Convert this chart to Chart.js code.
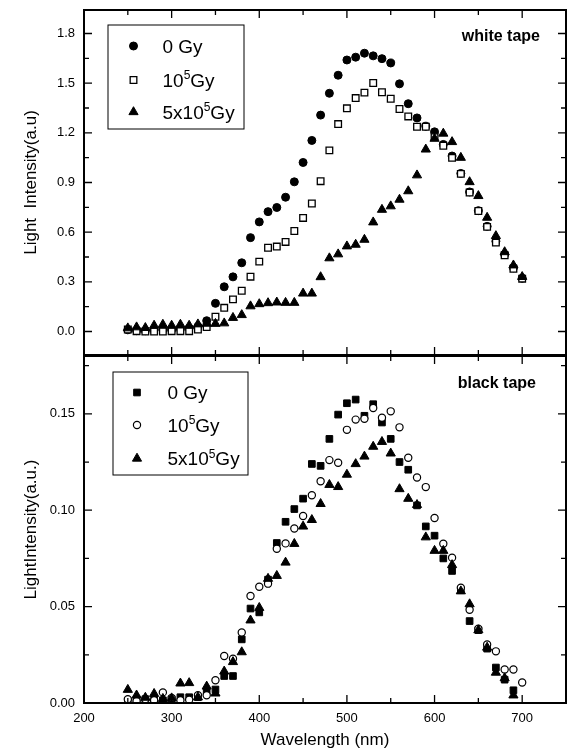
<!DOCTYPE html>
<html>
<head>
<meta charset="utf-8">
<script src="https://cdn.jsdelivr.net/npm/chart.js@4.4.1/dist/chart.umd.min.js"></script>
<style>
  html, body { margin: 0; padding: 0; background: #fff; }
  #wrap { position: relative; width: 569px; height: 751px; }
  #wrap canvas { position: absolute; left: 0; top: 0; }
</style>
</head>
<body>
<div id="wrap">
  <canvas id="topChart" width="569" height="751"></canvas>
  <canvas id="bottomChart" width="569" height="751"></canvas>
</div>
<script>
// wavelengths (nm)
const wavelengths = [250, 260, 270, 280, 290, 300, 310, 320, 330, 340, 350, 360, 370, 380, 390, 400,
    410, 420, 430, 440, 450, 460, 470, 480, 490, 500, 510, 520, 530, 540, 550, 560, 570, 580, 590, 600,
    610, 620, 630, 640, 650, 660, 670, 680, 690, 700];

// white tape panel
const whiteLabels = ["0 Gy", "10^5Gy", "5x10^5Gy"];
const white0 = [0.01, 0.005, 0.005, 0.01, 0.01, 0.01, 0.015, 0.02, 0.03, 0.065, 0.17, 0.27, 0.33, 0.415,
    0.567, 0.662, 0.724, 0.749, 0.811, 0.904, 1.021, 1.154, 1.307, 1.439, 1.548, 1.64, 1.657, 1.681, 1.665,
    1.648, 1.622, 1.496, 1.376, 1.29, 1.24, 1.206, 1.13, 1.06, 0.955, 0.843, 0.73, 0.635, 0.545, 0.465,
    0.385, 0.322];
const white1e5 = [0.012, 0.002, 0, 0, 0, 0.002, 0.002, 0.002, 0.012, 0.027, 0.089, 0.143, 0.194, 0.246,
    0.331, 0.422, 0.506, 0.513, 0.541, 0.607, 0.686, 0.773, 0.908, 1.094, 1.253, 1.348, 1.41, 1.443, 1.501,
    1.445, 1.406, 1.344, 1.299, 1.237, 1.237, 1.174, 1.122, 1.049, 0.952, 0.839, 0.728, 0.632, 0.537, 0.46,
    0.379, 0.319];
const white5e5 = [0.02, 0.026, 0.022, 0.036, 0.042, 0.036, 0.042, 0.036, 0.044, 0.048, 0.047, 0.05, 0.083,
    0.1, 0.153, 0.166, 0.172, 0.176, 0.174, 0.174, 0.23, 0.23, 0.329, 0.443, 0.467, 0.515, 0.525, 0.555, 0.66,
    0.736, 0.757, 0.797, 0.848, 0.944, 1.1, 1.165, 1.196, 1.145, 1.05, 0.903, 0.819, 0.688, 0.577, 0.48, 0.4,
    0.33];

// black tape panel (filled squares and triangles stop at 690 nm)
const blackLabels = ["0 Gy", "10^5Gy", "5x10^5Gy"];
const black0 = [0.001, 0.002, 0.002, 0.002, 0.0014, 0.002, 0.003, 0.003, 0.003, 0.006, 0.007, 0.014, 0.014,
    0.033, 0.049, 0.047, 0.064, 0.083, 0.094, 0.1006, 0.106, 0.124, 0.123, 0.137, 0.1496, 0.1555, 0.1574,
    0.149, 0.155, 0.1455, 0.137, 0.125, 0.121, 0.1025, 0.0916, 0.0868, 0.075, 0.0685, 0.0585, 0.0425, 0.0378,
    0.0282, 0.0184, 0.0121, 0.0066];
const black1e5 = [0.002, 0.001, 0.002, 0.0014, 0.0055, 0.0026, 0.0014, 0.0017, 0.004, 0.004, 0.0118, 0.0244,
    0.023, 0.0366, 0.0555, 0.0603, 0.0619, 0.08, 0.0828, 0.0905, 0.097, 0.1078, 0.115, 0.126, 0.1246, 0.1417,
    0.147, 0.1474, 0.153, 0.148, 0.1513, 0.143, 0.1272, 0.117, 0.112, 0.096, 0.0826, 0.0754, 0.0598, 0.0484,
    0.0385, 0.0304, 0.0268, 0.0174, 0.0174, 0.0106];
const black5e5 = [0.0069, 0.004, 0.0028, 0.0048, 0.0022, 0.0025, 0.0102, 0.0104, 0.003, 0.0086, 0.005, 0.0164,
    0.0213, 0.0264, 0.0429, 0.0494, 0.0645, 0.066, 0.0729, 0.0826, 0.0916, 0.095, 0.1033, 0.1132, 0.1121,
    0.1185, 0.124, 0.1279, 0.133, 0.1355, 0.1295, 0.111, 0.106, 0.1028, 0.086, 0.079, 0.079, 0.0716, 0.058,
    0.0513, 0.0378, 0.0288, 0.0158, 0.0129, 0.004];

// tick labels
const xTicks = [200, 300, 400, 500, 600, 700];
const whiteYTicks = [0, 0.3, 0.6, 0.9, 1.2, 1.5, 1.8];
const blackYTicks = [0, 0.05, 0.10, 0.15];

const FONT = "'Liberation Sans', Arial, Helvetica, sans-serif";
Chart.defaults.font.family = FONT;
Chart.defaults.color = "#000";

function points(values) {
    return values.map((v, i) => ({ x: wavelengths[i], y: v }));
}

function minorTicks(major, min, max) {
    let step = major[1] - major[0];
    let list = [major[0] - step / 2];
    major.forEach(v => list.push(v + step / 2));
    return list.filter(v => v > min + 1e-9 && v < max - 1e-9);
}

// frame with inward ticks on all four sides
const framePlugin = {
    id: "frame",
    afterDraw(chart, args, opts) {
        const { ctx, chartArea: a, scales: { x, y } } = chart;
        ctx.save();
        ctx.strokeStyle = "#000";
        ctx.lineWidth = 1.3;
        ctx.beginPath();
        const xt = (list, len) => list.forEach(v => {
            let px = x.getPixelForValue(v);
            ctx.moveTo(px, a.bottom); ctx.lineTo(px, a.bottom - len);
            ctx.moveTo(px, a.top); ctx.lineTo(px, a.top + len);
        });
        const yt = (list, len) => list.forEach(v => {
            let py = y.getPixelForValue(v);
            ctx.moveTo(a.left, py); ctx.lineTo(a.left + len, py);
            ctx.moveTo(a.right, py); ctx.lineTo(a.right - len, py);
        });
        xt(xTicks, 8);
        xt(minorTicks(xTicks, x.min, x.max), 5);
        yt(opts.yTicks, 8);
        yt(minorTicks(opts.yTicks, y.min, y.max), 5);
        ctx.stroke();
        ctx.lineWidth = 2;
        ctx.strokeRect(a.left, a.top, a.right - a.left, a.bottom - a.top);
        ctx.restore();
    }
};

// text with "^" marking a one-character superscript
function drawRichText(ctx, text, x, y, size) {
    let i = 0;
    while (i < text.length) {
        if (text[i] === "^") {
            ctx.font = Math.round(size * 0.62) + "px " + FONT;
            ctx.fillText(text[i + 1], x, y - size * 0.4);
            x += ctx.measureText(text[i + 1]).width;
            i += 2;
        } else {
            let j = text.indexOf("^", i);
            if (j < 0) j = text.length;
            let part = text.slice(i, j);
            ctx.font = size + "px " + FONT;
            ctx.fillText(part, x, y);
            x += ctx.measureText(part).width;
            i = j;
        }
    }
}

// boxed legend and panel name inside the plot
const legendPlugin = {
    id: "boxLegend",
    afterDraw(chart, args, opts) {
        const ctx = chart.ctx;
        const b = opts.box;
        ctx.save();
        ctx.strokeStyle = "#000";
        ctx.lineWidth = 1;
        ctx.strokeRect(b.left, b.top, b.right - b.left, b.bottom - b.top);
        chart.data.datasets.forEach((ds, i) => {
            let ry = opts.rows[i];
            ctx.fillStyle = ds.backgroundColor;
            ctx.strokeStyle = ds.borderColor;
            ctx.lineWidth = ds.borderWidth;
            Chart.helpers.drawPoint(ctx, {
                pointStyle: ds.pointStyle, radius: ds.pointRadius, rotation: 0, borderWidth: ds.borderWidth
            }, opts.markerX, ry);
            ctx.fillStyle = "#000";
            ctx.textBaseline = "alphabetic";
            ctx.textAlign = "left";
            drawRichText(ctx, opts.labels[i], opts.textX, ry + 6.8, 19);
        });
        ctx.font = "bold 16px " + FONT;
        ctx.textAlign = "right";
        ctx.textBaseline = "middle";
        ctx.fillText(opts.name, opts.nameX, opts.nameY);
        ctx.restore();
    }
};

function makeChart(id, cfg) {
    return new Chart(document.getElementById(id), {
        type: "scatter",
        data: { datasets: cfg.datasets },
        plugins: [framePlugin, legendPlugin],
        options: {
            responsive: false,
            animation: false,
            events: [],
            layout: {
                autoPadding: false,
                padding: { left: 0, right: 3, top: cfg.padTop, bottom: cfg.padBottom }
            },
            plugins: {
                legend: { display: false },
                tooltip: { enabled: false },
                frame: { yTicks: cfg.yTicks },
                boxLegend: cfg.legend
            },
            scales: {
                x: {
                    type: "linear",
                    min: 200,
                    max: 750,
                    display: cfg.showX,
                    afterBuildTicks: s => { s.ticks = xTicks.map(v => ({ value: v })); },
                    afterFit: s => {
                        s.height = cfg.showX ? 48 : 0;
                        s.paddingLeft = 0;
                        s.paddingRight = 0;
                    },
                    grid: { display: false, drawTicks: false },
                    border: { display: false },
                    ticks: { font: { size: 13 }, padding: 8, maxRotation: 0 },
                    title: {
                        display: true, text: "Wavelength (nm)", font: { size: 17 },
                        padding: { top: 0, bottom: 0 }
                    }
                },
                y: {
                    type: "linear",
                    min: cfg.yMin,
                    max: cfg.yMax,
                    afterBuildTicks: s => { s.ticks = cfg.yTicks.map(v => ({ value: v })); },
                    afterFit: s => {
                        s.width = 84;
                        s.paddingTop = 0;
                        s.paddingBottom = 0;
                    },
                    grid: { display: false, drawTicks: false },
                    border: { display: false },
                    ticks: { font: { size: 13 }, padding: 9, callback: v => v.toFixed(cfg.digits) },
                    title: {
                        display: true, text: cfg.yTitle, font: { size: 17 },
                        padding: { top: 21, bottom: 0 }
                    }
                }
            }
        }
    });
}

function series(label, values, style, radius, fill, width, order) {
    return {
        label: label,
        data: points(values),
        pointStyle: style,
        pointRadius: radius,
        backgroundColor: fill,
        borderColor: "#000",
        borderWidth: width,
        order: order,
        showLine: false
    };
}

makeChart("topChart", {
    padTop: 10,
    padBottom: 751 - 355,
    showX: false,
    yMin: -0.142,
    yMax: 1.942,
    yTicks: whiteYTicks,
    digits: 1,
    yTitle: "Light  Intensity(a.u)",
    datasets: [
        series(whiteLabels[0], white0, "circle", 4, "#000", 1, 2),
        series(whiteLabels[1], white1e5, "rect", 4.7, "#fff", 1.3, 1),
        series(whiteLabels[2], white5e5, "triangle", 5.3, "#000", 1, 0)
    ],
    legend: {
        box: { left: 108, top: 25, right: 244, bottom: 129 },
        rows: [46, 80, 112],
        markerX: 133.5,
        textX: 162.5,
        labels: whiteLabels,
        name: "white tape",
        nameX: 540,
        nameY: 37
    }
});

makeChart("bottomChart", {
    padTop: 356,
    padBottom: 0,
    showX: true,
    yMin: 0,
    yMax: 0.18,
    yTicks: blackYTicks,
    digits: 2,
    yTitle: "LightIntensity(a.u.)",
    datasets: [
        series(blackLabels[0], black0, "rect", 4.7, "#000", 1, 2),
        series(blackLabels[1], black1e5, "circle", 3.6, "#fff", 1.2, 1),
        series(blackLabels[2], black5e5, "triangle", 5.3, "#000", 1, 0)
    ],
    legend: {
        box: { left: 113, top: 372, right: 248, bottom: 475 },
        rows: [392.5, 425, 458.5],
        markerX: 137,
        textX: 167.5,
        labels: blackLabels,
        name: "black tape",
        nameX: 536,
        nameY: 384
    }
});
</script>
</body>
</html>
